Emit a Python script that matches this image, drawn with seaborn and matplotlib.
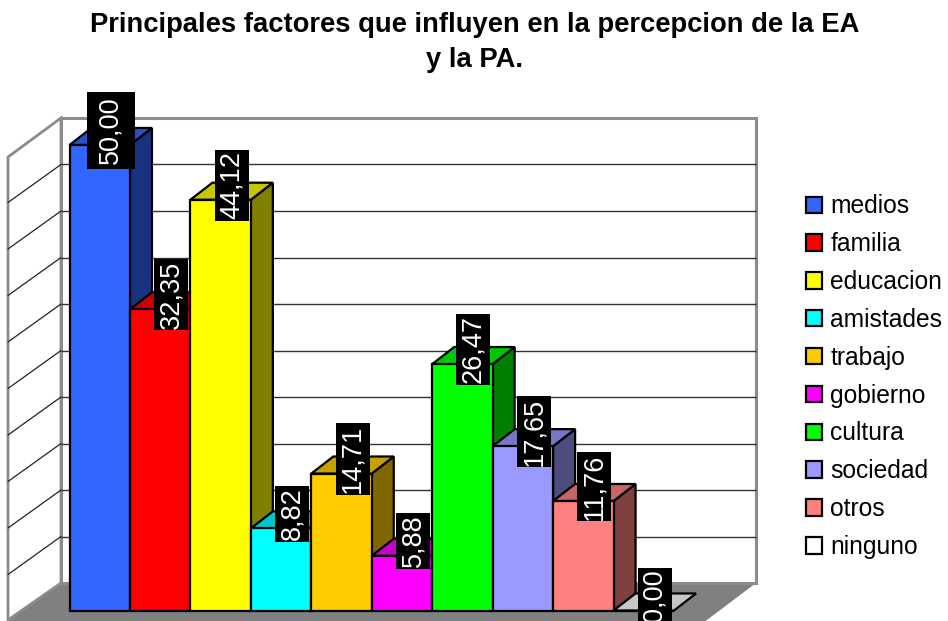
import matplotlib
matplotlib.use("Agg")
import matplotlib.pyplot as plt
from matplotlib.patches import Polygon
import pandas as pd
import seaborn as sns

factores = ["medios", "familia", "educacion", "amistades", "trabajo",
            "gobierno", "cultura", "sociedad", "otros", "ninguno"]
valores = [50.00, 32.35, 44.12, 8.82, 14.71, 5.88, 26.47, 17.65, 11.76, 0.00]
etiquetas = ["50,00", "32,35", "44,12", "8,82", "14,71",
             "5,88", "26,47", "17,65", "11,76", "0,00"]
colores = ["#3366FF", "#FF0000", "#FFFF00", "#00FFFF", "#FFCC00",
           "#FF00FF", "#00FF00", "#9999FF", "#FF8080", "#FFFFFF"]
lineas_grid = [5, 10, 15, 20, 25, 30, 35, 40, 45]

W, H = 948, 621
# profundidad de las barras en unidades de datos
PROF_X = 0.364
PROF_Y = 1.83


def oscurecer(color, f):
    r, g, b = matplotlib.colors.to_rgb(color)
    return (r * f, g * f, b * f)


sns.set_theme(style="white")
plt.rcParams["font.family"] = ["Liberation Sans", "DejaVu Sans"]

fig = plt.figure(figsize=(W / 100, H / 100), dpi=100)
fig.patch.set_facecolor("white")

# Paredes y suelo, en pixeles de la imagen
fondo = fig.add_axes([0, 0, 1, 1], zorder=0)
fondo.set_xlim(0, W)
fondo.set_ylim(H, 0)
fondo.axis("off")
gris = "#808080"
fondo.add_patch(Polygon([(61, 583), (756, 583), (695, 629), (-5, 629)],
                        closed=True, fc=gris, ec="none"))
fondo.add_patch(Polygon([(8, 157), (61, 118), (61, 583), (8, 620)],
                        closed=True, fc="white", ec="#8c8c8c", lw=2))
fondo.add_patch(Polygon([(61, 118), (756, 118), (756, 583), (61, 583)],
                        closed=True, fc="white", ec="#8c8c8c", lw=2.2))
for v in lineas_grid:
    y = 583 - v * 9.3
    fondo.plot([61, 756], [y, y], color="#333333", lw=1, solid_capstyle="butt")
    fondo.plot([8, 61], [y + 38, y], color="#222222", lw=0.9)

# Barras
ax = fig.add_axes([69.5 / W, (H - 610.5) / H, 604.5 / W, 465.5 / H], zorder=1)
df = pd.DataFrame({"factor": factores, "valor": valores})
sns.barplot(data=df, x="factor", y="valor", hue="factor", hue_order=factores,
            palette=colores, width=1, dodge=False, saturation=1,
            edgecolor="black", linewidth=1.6, legend=True, ax=ax)
ax.set_xlim(-0.5, 9.5)
ax.set_ylim(0, 50)
ax.axis("off")

barras = [p for c in ax.containers for p in c]
for i, p in enumerate(barras):
    x0, ancho, alto = p.get_x(), p.get_width(), p.get_height()
    x1 = x0 + ancho
    color = colores[i]
    z = 3 + i
    p.set_clip_on(False)
    p.set_zorder(z + 0.2)
    lado = Polygon([(x1, 0), (x1 + PROF_X, PROF_Y), (x1 + PROF_X, alto + PROF_Y), (x1, alto)],
                   closed=True, fc=oscurecer(color, 0.5), ec="black", lw=1.6,
                   clip_on=False, zorder=z, joinstyle="miter")
    tapa = Polygon([(x0, alto), (x1, alto), (x1 + PROF_X, alto + PROF_Y), (x0 + PROF_X, alto + PROF_Y)],
                   closed=True, fc=oscurecer(color, 0.78), ec="black", lw=1.6,
                   clip_on=False, zorder=z + 0.1, joinstyle="miter")
    if alto > 0:
        ax.add_patch(lado)
    ax.add_patch(tapa)
    # la caja va girada con el texto; la primera etiqueta tiene una caja mas ancha
    caja = dict(fc="black", ec="black", lw=0, boxstyle="square,pad=0.055", mutation_aspect=2.7)
    if i == 0:
        caja = dict(fc="black", ec="black", lw=0, boxstyle="square,pad=0.185", mutation_aspect=2.2)
    ax.text(x0 + ancho / 2 + PROF_X / 2, alto + PROF_Y / 2 + 0.65, etiquetas[i],
            rotation=90, ha="center", va="center", color="white", fontsize=19.5,
            zorder=40, clip_on=False, bbox=caja)

handles, labels = ax.get_legend_handles_labels()
ley = ax.legend(handles, labels, loc="upper left", frameon=False,
                bbox_to_anchor=(799 / W, (H - 187) / H), bbox_transform=fig.transFigure,
                fontsize=17.7, handlelength=0.65, handleheight=0.65,
                handletextpad=0.33, labelspacing=0.563, borderpad=0.3, borderaxespad=0)
ley.set_zorder(50)
for h in ley.legend_handles:
    h.set_edgecolor("black")
    h.set_linewidth(1.6)
for t in ley.get_texts():
    t.set_color("black")

fig.text(475 / W, 1 - 42.5 / H,
         "Principales factores que influyen en la percepcion de la EA\ny la PA.",
         ha="center", va="center", fontsize=19.7, fontweight="bold",
         color="black", linespacing=1.43)

fig.savefig("out.png", dpi=100)
